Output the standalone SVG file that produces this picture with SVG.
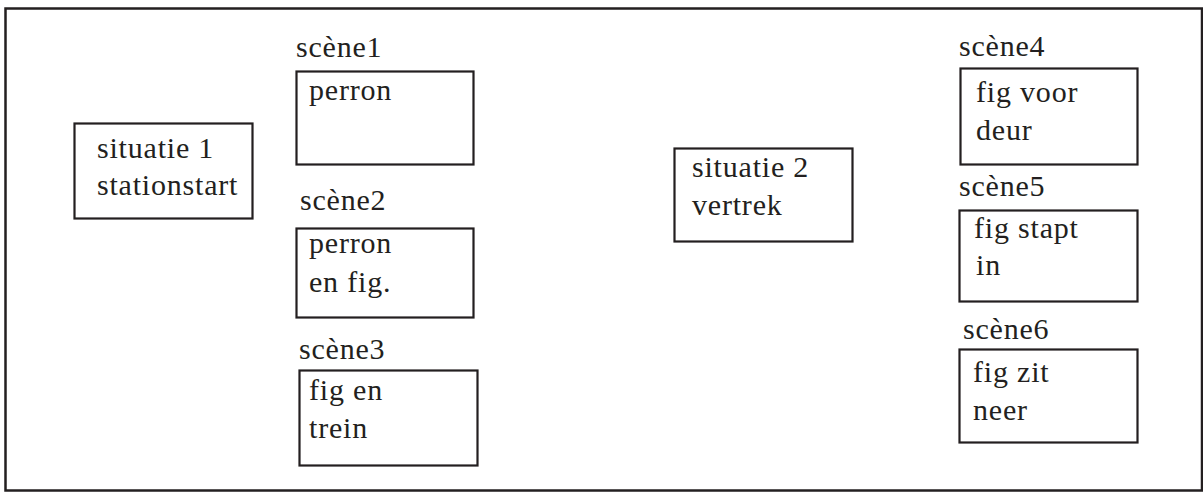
<svg xmlns="http://www.w3.org/2000/svg" width="1203" height="493" viewBox="0 0 1203 493">
<style>
.frame{fill:none;stroke:#231f20;stroke-width:2.5}
.box{fill:#ffffff;stroke:#231f20;stroke-width:2.2}
text{font-family:"Liberation Serif","Times New Roman",serif;font-size:30px;fill:#231f20;letter-spacing:0.8px}
</style>
<rect x="0" y="0" width="1203" height="493" fill="#ffffff"/>
<rect class="frame" x="5.5" y="8.5" width="1196.5" height="482"/>
<g id="situatie1">
<rect class="box" x="74.5" y="123.5" width="178" height="95"/>
<text x="97" y="158">situatie 1</text>
<text x="97" y="195">stationstart</text>
</g>
<g id="scene1">
<text x="296" y="57">scène1</text>
<rect class="box" x="296.5" y="71.5" width="177" height="93"/>
<text x="309" y="100">perron</text>
</g>
<g id="scene2">
<text x="300" y="210">scène2</text>
<rect class="box" x="296.5" y="228.5" width="177" height="89"/>
<text x="309" y="253">perron</text>
<text x="309" y="292">en fig.</text>
</g>
<g id="scene3">
<text x="299" y="359">scène3</text>
<rect class="box" x="299.5" y="370.5" width="178" height="95"/>
<text x="309" y="400">fig en</text>
<text x="309" y="438">trein</text>
</g>
<g id="situatie2">
<rect class="box" x="674.5" y="148.5" width="178" height="93"/>
<text x="692" y="177">situatie 2</text>
<text x="692" y="215">vertrek</text>
</g>
<g id="scene4">
<text x="959" y="56">scène4</text>
<rect class="box" x="960.5" y="68.5" width="177" height="96"/>
<text x="976" y="102">fig voor</text>
<text x="976" y="140">deur</text>
</g>
<g id="scene5">
<text x="959" y="196">scène5</text>
<rect class="box" x="959.5" y="210.5" width="178" height="91"/>
<text x="974" y="238">fig stapt</text>
<text x="976" y="275">in</text>
</g>
<g id="scene6">
<text x="963" y="339">scène6</text>
<rect class="box" x="959.5" y="349.5" width="178" height="93"/>
<text x="973" y="382">fig zit</text>
<text x="973" y="420">neer</text>
</g>
<g id="connectors"></g>
</svg>
